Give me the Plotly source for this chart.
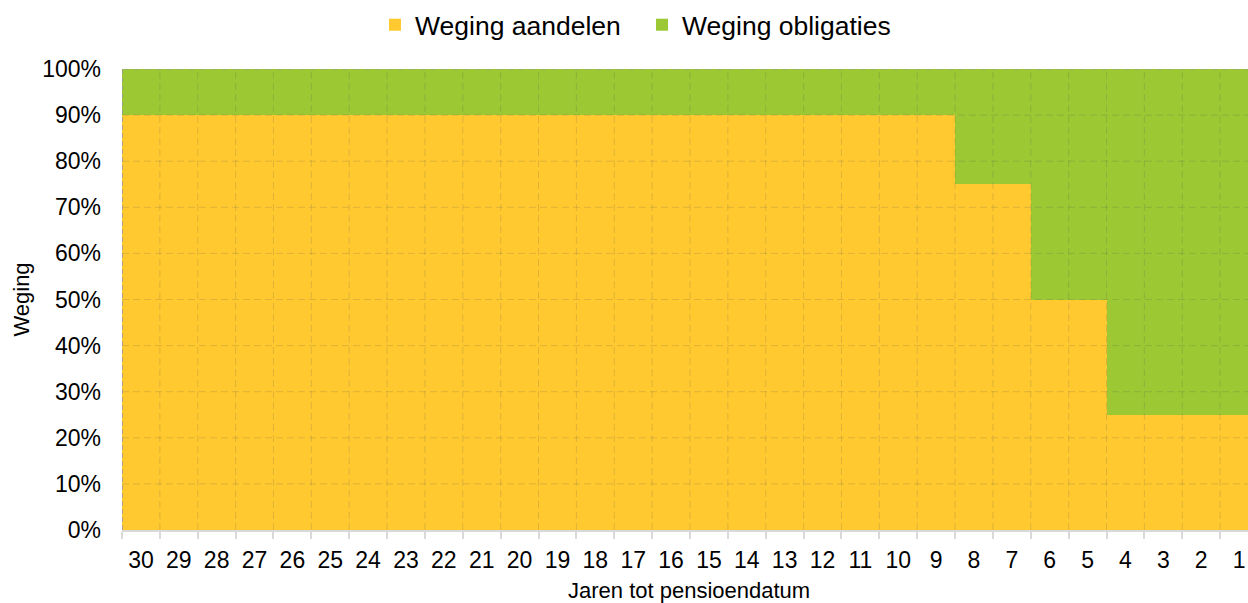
import plotly.graph_objects as go

years = [str(y) for y in range(30, 0, -1)]
aandelen = [90] * 22 + [75, 75, 50, 50, 25, 25, 25, 25]
obligaties = [100 - a for a in aandelen]
y_ticks = list(range(0, 101, 10))
y_labels = [f"{v}%" for v in y_ticks]
x_title = "Jaren tot pensioendatum"

fig = go.Figure()
fig.add_trace(go.Bar(x=years, y=aandelen, name="Weging aandelen",
                     marker=dict(color="#FFC92F", line=dict(width=0))))
fig.add_trace(go.Bar(x=years, y=obligaties, name="Weging obligaties",
                     marker=dict(color="#9BC833", line=dict(width=0))))

grid_col = "rgba(90,90,90,0.2)"
edge_col = "rgba(150,150,150,0.75)"
n = len(years)
# horizontal gridlines drawn above the bars
for v in y_ticks[1:]:
    fig.add_shape(type="line", xref="x", yref="y", x0=-0.5, x1=n - 0.5, y0=v, y1=v,
                  line=dict(color=grid_col if v < 100 else edge_col, width=1, dash="7px,4px"),
                  layer="above")
# vertical gridlines at category boundaries
for i in range(n):
    fig.add_shape(type="line", xref="x", yref="y", x0=i - 0.5, x1=i - 0.5, y0=0, y1=100,
                  line=dict(color=grid_col if i > 0 else edge_col,
                            width=1 if i > 0 else 2, dash="7px,4px" if i > 0 else "5px,3px"),
                  layer="above")

# The plot area runs slightly past the right edge of the 1248px window (cropped, as in the reference)
W, H = 1258, 603
fig.update_layout(
    barmode="stack",
    bargap=0,
    width=W, height=H,
    margin=dict(l=122, r=0, t=69, b=73),
    paper_bgcolor="white", plot_bgcolor="white",
    font=dict(family="Liberation Sans, Arial, sans-serif", size=22, color="#000000"),
    legend=dict(orientation="h", xref="container", x=375 / W, xanchor="left",
                yref="container", y=1 - 25 / H, yanchor="middle",
                font=dict(size=26.5), itemwidth=30,
                entrywidth=222, entrywidthmode="pixels",
                traceorder="normal", bgcolor="rgba(0,0,0,0)"),
    showlegend=True,
)

# x-axis title as an annotation placed near the bottom edge, as in the reference
fig.add_annotation(text=x_title, xref="paper", yref="paper", x=0.5, y=0,
                   xanchor="center", yanchor="middle", yshift=-60, xshift=-1,
                   showarrow=False, font=dict(size=22))

fig.update_xaxes(type="category", categoryorder="array", categoryarray=years,
                 tickson="boundaries", ticks="outside", ticklen=7, tickcolor="#d9d9d9",
                 tickwidth=1.5, ticklabelstandoff=8,
                 showgrid=False, showline=True, linecolor="#d9d9d9", linewidth=2,
                 tickfont=dict(size=23),
                 automargin=False, range=[-0.5, n - 0.5])
fig.update_yaxes(range=[0, 100], tickvals=y_ticks, ticktext=y_labels, showgrid=False,
                 zeroline=False, showline=False, ticks="", tickfont=dict(size=23),
                 ticklabelstandoff=20,
                 title=dict(text="Weging", font=dict(size=22), standoff=6),
                 automargin=False)

fig.write_html(
    "out.html",
    config={"displayModeBar": False},
    post_script=(
        "document.documentElement.style.margin='0';"
        "document.body.style.margin='0';"
        "document.body.style.overflow='hidden';"
        "document.documentElement.style.overflow='hidden';"
    ),
)
